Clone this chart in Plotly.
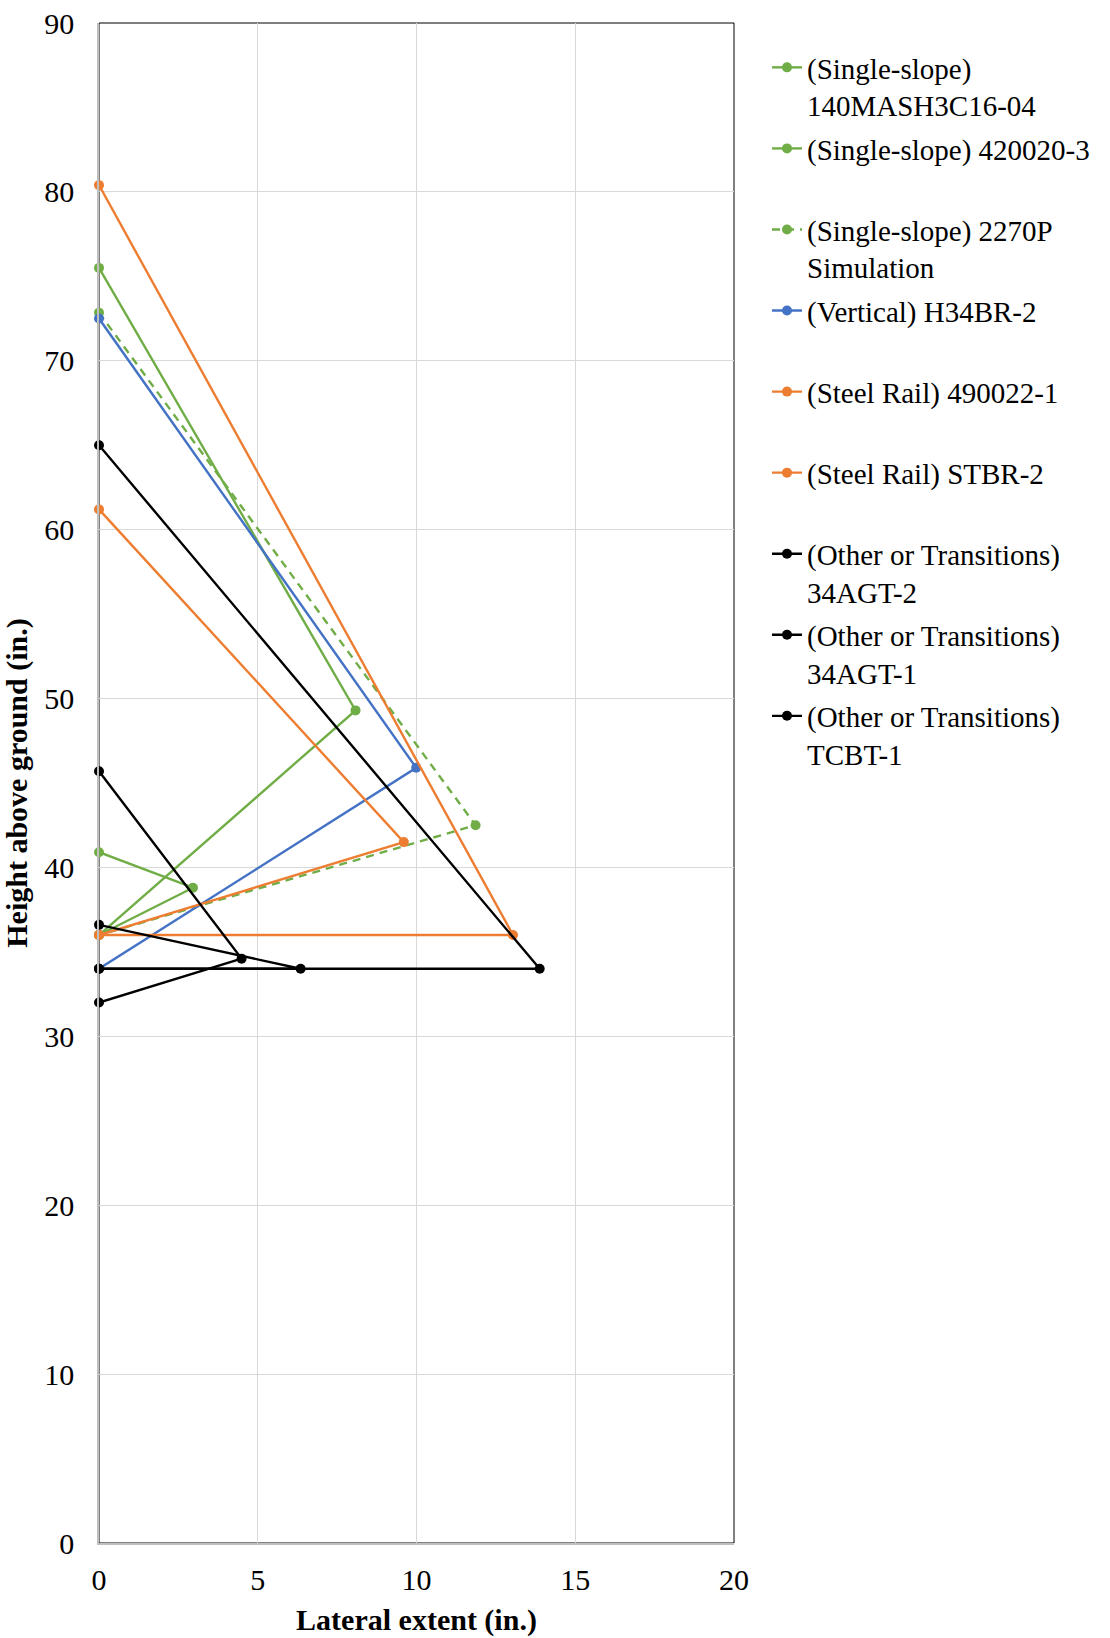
import plotly.graph_objects as go

# Lateral extent (in.) and height above ground (in.) for each test / simulation
names = [
    "(Single-slope)<br>140MASH3C16-04",
    "(Single-slope) 420020-3",
    "(Single-slope) 2270P<br>Simulation",
    "(Vertical) H34BR-2",
    "(Steel Rail) 490022-1",
    "(Steel Rail) STBR-2",
    "(Other or Transitions)<br>34AGT-2",
    "(Other or Transitions)<br>34AGT-1",
    "(Other or Transitions)<br>TCBT-1",
]

mash_x = [0, 8.08, 0]
mash_y = [75.5, 49.3, 36.0]
s420_x = [0, 2.96, 0]
s420_y = [40.9, 38.8, 36.0]
sim_x = [0, 11.86, 0]
sim_y = [72.85, 42.5, 36.0]
h34_x = [0, 9.99, 0]
h34_y = [72.5, 45.9, 34.0]
s490_x = [0, 13.04, 0]
s490_y = [80.4, 36.0, 36.0]
stbr_x = [0, 9.6, 0]
stbr_y = [61.2, 41.5, 36.0]
agt2_x = [0, 13.88, 0]
agt2_y = [65.0, 34.0, 34.0]
agt1_x = [0, 6.35, 0]
agt1_y = [36.6, 34.0, 34.0]
tcbt_x = [0, 4.49, 0]
tcbt_y = [45.7, 34.6, 32.0]

x_ticks = [0, 5, 10, 15, 20]
y_ticks = [0, 10, 20, 30, 40, 50, 60, 70, 80, 90]

GREEN = "#70AD47"
BLUE = "#4472C4"
ORANGE = "#ED7D31"
BLACK = "#000000"

series = [
    (mash_x, mash_y, GREEN, "solid"),
    (s420_x, s420_y, GREEN, "solid"),
    (sim_x, sim_y, GREEN, "8px,6px"),
    (h34_x, h34_y, BLUE, "solid"),
    (s490_x, s490_y, ORANGE, "solid"),
    (stbr_x, stbr_y, ORANGE, "solid"),
    (agt2_x, agt2_y, BLACK, "solid"),
    (agt1_x, agt1_y, BLACK, "solid"),
    (tcbt_x, tcbt_y, BLACK, "solid"),
]

W, H = 1110, 1638
ML, MR, MT, MB = 99, 376, 23, 95
PW, PH = W - ML - MR, H - MT - MB
FONT = "Liberation Serif, Times New Roman, serif"

fig = go.Figure()
legends = {}
for i, ((xs, ys, color, dash), name) in enumerate(zip(series, names)):
    key = "legend" if i == 0 else f"legend{i + 1}"
    fig.add_trace(go.Scatter(
        x=xs, y=ys, name=name, mode="lines+markers",
        line=dict(color=color, width=2.4, dash=dash),
        marker=dict(color=color, size=10),
        cliponaxis=False, legend=key, hoverinfo="skip",
    ))
    # each legend entry sits in its own evenly spaced slot on the right
    top_px = 42 + i * 81.06
    legends[key] = dict(
        x=(767 - ML) / PW, y=1 - (top_px - MT) / PH,
        xanchor="left", yanchor="top", valign="top",
        bgcolor="rgba(0,0,0,0)", borderwidth=0,
        font=dict(family=FONT, size=29, color="black"),
    )

fig.update_layout(
    width=W, height=H,
    margin=dict(l=ML, r=MR, t=MT, b=MB, autoexpand=False),
    paper_bgcolor="white", plot_bgcolor="white",
    showlegend=True,
    font=dict(family=FONT, size=29, color="black"),
    **legends,
)

fig.update_xaxes(
    range=[0, 20], tickvals=x_ticks, ticks="", showgrid=True,
    gridcolor="#D9D9D9", gridwidth=1, zeroline=False,
    showline=True, linecolor="#BFBFBF", linewidth=1.5,
    ticklabelstandoff=9,
    tickfont=dict(family=FONT, size=30, color="black"),
    title=dict(text="<b>Lateral extent (in.)</b>", standoff=14,
               font=dict(family=FONT, size=30, color="black")),
    automargin=False, fixedrange=True,
)
fig.update_yaxes(
    range=[0, 90], tickvals=y_ticks, ticks="", showgrid=True,
    gridcolor="#D9D9D9", gridwidth=1, zeroline=False,
    showline=True, linecolor="#BFBFBF", linewidth=1.5,
    ticklabelstandoff=17,
    tickfont=dict(family=FONT, size=30, color="black"),
    title=dict(text="<b>Height above ground (in.)</b>", standoff=12,
               font=dict(family=FONT, size=30, color="black")),
    automargin=False, fixedrange=True,
)

# black plot-area border; the grey axis lines sit over its left and bottom edges
fig.add_shape(type="rect", xref="paper", yref="paper", x0=0, y0=0, x1=1, y1=1,
              line=dict(color="black", width=1), layer="below")

fig.write_html("out.html")
